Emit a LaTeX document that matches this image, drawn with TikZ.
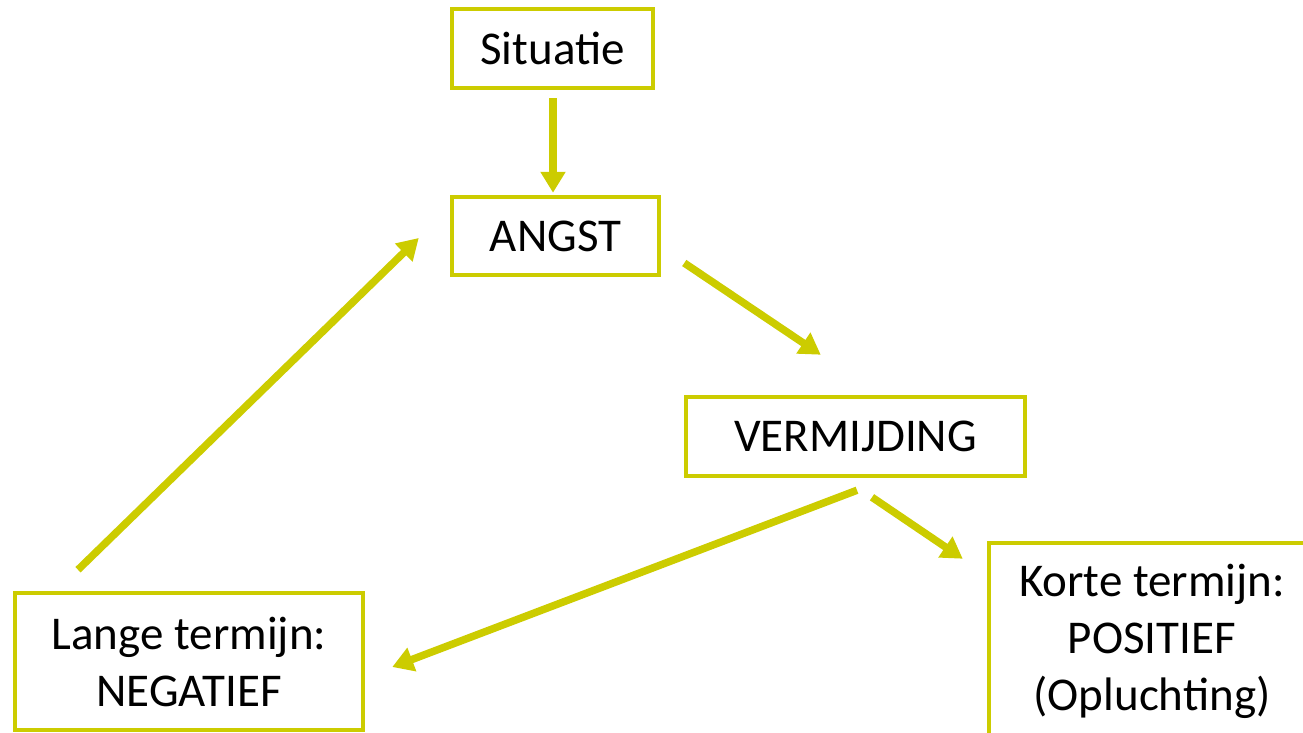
\documentclass[tikz,border=0pt]{standalone}
\usepackage{fontspec}
\setmainfont{Carlito}
\usetikzlibrary{arrows.meta,calc}
\definecolor{olive}{RGB}{204,204,0}
\tikzset{
  box/.style={draw=olive, line width=4.5pt, rectangle, inner sep=0pt, align=center,
    font=\fontsize{47}{57}\selectfont, text=black},
  arr/.style={draw=olive, line width=7.5pt, -{Triangle[width=24pt,length=21pt]}}
}
\begin{document}
\begin{tikzpicture}[x=1pt,y=-1pt]
\useasboundingbox (0,0) rectangle (1303,733);
\begin{scope}
\clip (0,0) rectangle (1303,733);
\node[box, minimum width=201pt, minimum height=79pt] (sit) at (552.5,48.5) {Situatie};
\node[box, minimum width=207pt, minimum height=78pt] (angst) at (555.5,236) {ANGST};
\node[box, minimum width=339pt, minimum height=79pt] (verm) at (855.5,436.5) {VERMIJDING};
\node[box, minimum width=348pt, minimum height=137pt] (lange) at (189,661.5) {Lange termijn:\\NEGATIEF};
\node[box, minimum width=326pt, minimum height=196pt] (korte) at (1152,641) {Korte termijn:\\POSITIEF\\(Opluchting)};
\draw[arr] ($(sit.south)+(0.5,8)$) -- ($(sit.south |- angst.north)+(0.5,-2)$);
\draw[arr] ($(angst.east)+(23,27)$) -- ($(verm.north west)+(137,-40)$);
\draw[arr] ($(verm.south)+(1.5,12)$) -- ($(lange.east)+(27,5.5)$);
\draw[arr] ($(verm.south)+(16.5,19)$) -- ($(korte.north west)+(-24,18)$);
\draw[arr] ($(lange.north)+(-111,-21)$) -- ($(angst.west)+(-31,2)$);
\end{scope}
\end{tikzpicture}
\end{document}
